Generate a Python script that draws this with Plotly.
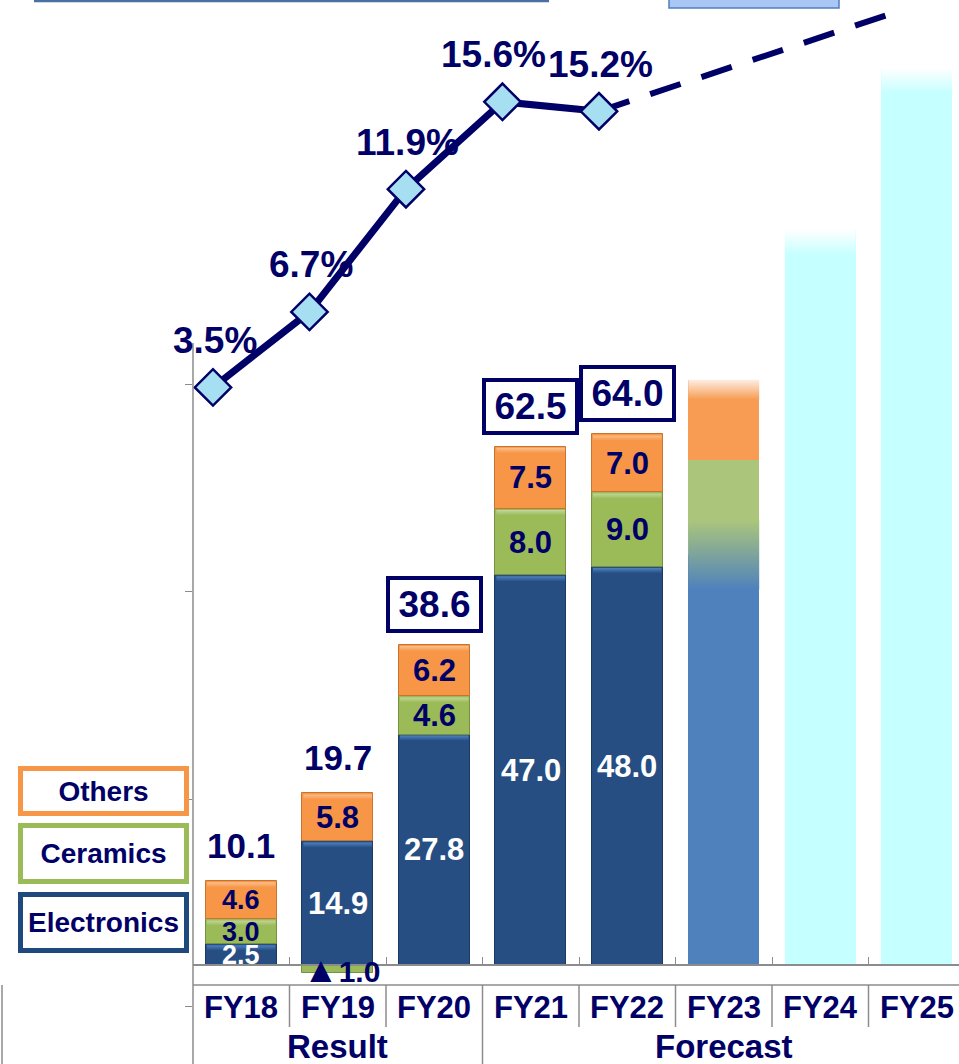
import plotly.graph_objects as go

# ---- data -------------------------------------------------------------
years = ["FY18", "FY19", "FY20", "FY21", "FY22", "FY23", "FY24", "FY25"]
result_years = years[:5]

electronics = [2.5, 14.9, 27.8, 47.0, 48.0]
ceramics = [3.0, -1.0, 4.6, 8.0, 9.0]
others = [4.6, 5.8, 6.2, 7.5, 7.0]
totals = [10.1, 19.7, 38.6, 62.5, 64.0]

margin_pct = [3.5, 6.7, 11.9, 15.6, 15.2]
margin_outlook_fy25 = 19.3

fy23_plan = {"Electronics": 49.5, "Ceramics": 11.4, "Others": 9.7}
outlook_years = ["FY24", "FY25"]
outlook_values = [88.7, 108.2]

period_groups = [("Result", years[:3]), ("Forecast", years[3:])]

# ---- styling ----------------------------------------------------------
FONT = "Liberation Sans, Arial, sans-serif"
NAVY = "#000066"
GRID = "#8c8c8c"
C_ELEC, C_CER, C_OTH = "#264e83", "#9bbb59", "#f79646"
HI_ELEC, HI_CER, HI_OTH = "#4f81bd", "#c3d69b", "#fbbf8c"
C_ELEC_F, C_CER_F, C_OTH_F = "#4f81bd", "#abc67b", "#f79c52"
C_OUTLOOK = "#c6ffff"

W, H = 959, 1064
L = 193                      # left edge of plot area (px)
CAT_PX = 96.5                # px per category
BASE_PX = 965                # pixel row of zero
K = 8.29                     # px per bar unit
LINE_ZERO_PX, LINE_K = 470, 23.6
BAR_W = 0.735
BEVEL = 0.75                 # height of the lit top edge, bar units

x_hi = -0.5 + (W - L) / CAT_PX
line_shift = 0.207
pos = {y: i for i, y in enumerate(years)}


def px_x(p):
    return (p - L) / (W - L)


def px_y(p):
    return 1 - p / H


fig = go.Figure()

# ---- stacked result bars ---------------------------------------------
xr = [pos[y] for y in result_years]
series = [("Electronics", electronics, C_ELEC, HI_ELEC, "#1b3a63"),
          ("Ceramics", ceramics, C_CER, HI_CER, "#76913f"),
          ("Others", others, C_OTH, HI_OTH, "#c8732e")]
for name, vals, col, _, edge in series:
    fig.add_bar(x=xr, y=vals, name=name, width=BAR_W,
                marker=dict(color=col, line=dict(color=edge, width=1)))

# ---- FY23 plan bar ----------------------------------------------------
for (name, v), col in zip(fy23_plan.items(), [C_ELEC_F, C_CER_F, C_OTH_F]):
    fig.add_bar(x=[pos["FY23"]], y=[v], width=BAR_W,
                marker=dict(color=col, line=dict(width=0)))

# ---- outlook bars -----------------------------------------------------
fig.add_bar(x=[pos[y] for y in outlook_years], y=outlook_values, width=BAR_W,
            marker=dict(color=C_OUTLOOK, line=dict(width=0)))


def gradient_block(xc, y_lo, y_hi, c_lo, c_hi, inset=0.0):
    x0, x1 = xc - BAR_W / 2 + inset, xc + BAR_W / 2 - inset
    fig.add_scatter(x=[x0, x1, x1, x0, x0], y=[y_lo, y_lo, y_hi, y_hi, y_lo],
                    mode="lines", line=dict(width=0), fill="toself",
                    fillgradient=dict(type="vertical", start=y_lo, stop=y_hi,
                                      colorscale=[[0, c_lo], [1, c_hi]]),
                    hoverinfo="skip")


# lit top edge on each positive result segment
for i in range(len(result_years)):
    base = 0.0
    for _, vals, col, hi, _ in series:
        v = vals[i]
        if v > 0:
            base += v
            gradient_block(i, base - BEVEL, base - 0.12, col, hi, inset=0.012)

# soft transitions on the plan / outlook bars
e23 = fy23_plan["Electronics"]
top23 = sum(fy23_plan.values())
gradient_block(pos["FY23"], e23 - 4.2, e23 + 4.2, C_ELEC_F, C_CER_F)
gradient_block(pos["FY23"], top23 - 2.4, top23, C_OTH_F, "#fdeee4")
for y, v in zip(outlook_years, outlook_values):
    gradient_block(pos[y], v - 3.0, v, C_OUTLOOK, "#ffffff")

# ---- operating margin line -------------------------------------------
fig.add_scatter(x=[pos["FY22"], pos["FY25"]], y=[margin_pct[-1], margin_outlook_fy25],
                xaxis="x2", yaxis="y2", mode="lines",
                line=dict(color=NAVY, width=6, dash="32px,22px"), hoverinfo="skip")
fig.add_scatter(x=xr, y=margin_pct, xaxis="x2", yaxis="y2", mode="lines+markers",
                line=dict(color=NAVY, width=7),
                marker=dict(symbol="diamond", size=28, color="#a6def2",
                            line=dict(color=NAVY, width=2.5)))

ann = []


def label(**kw):
    kw.setdefault("showarrow", False)
    kw.setdefault("xanchor", "center")
    kw.setdefault("yanchor", "middle")
    ann.append(kw)


# segment value labels
for i in range(len(result_years)):
    fs = 27 if totals[i] < 15 else 31
    e, c, o = electronics[i], ceramics[i], others[i]
    c_mid = e + c / 2 if c > 0 else c / 2
    o_mid = e + max(c, 0) + o / 2
    for val, mid, col in [(e, e / 2, "white"), (c, c_mid, NAVY), (o, o_mid, NAVY)]:
        if val >= 0:
            txt = f"<b>{val:.1f}</b>"
        else:
            txt = f"<span style='font-size:36px'>▲</span><b>{abs(val):.1f}</b>"
        label(x=i, y=mid, text=txt,
              font=dict(family=FONT, size=fs if val >= 0 else 30, color=col),
              xshift=0 if val >= 0 else 4)

# totals
for i, t in enumerate(totals):
    top = electronics[i] + max(ceramics[i], 0) + others[i]
    if t > 30:
        label(x=i, y=top, yanchor="bottom", text=f"<b>{t:.1f}</b>", yshift=12,
              font=dict(family=FONT, size=37, color=NAVY),
              bordercolor=NAVY, borderwidth=4, borderpad=1, bgcolor="white",
              width=87, height=47)
    else:
        label(x=i, y=top, yanchor="bottom", text=f"<b>{t:.1f}</b>", yshift=14,
              font=dict(family=FONT, size=35, color=NAVY))

# margin labels
for i, p in enumerate(margin_pct):
    label(x=i, y=p, xref="x2", yref="y2", text=f"<b>{p:.1f}%</b>",
          yshift=47, xshift=-9 if i == 3 else 2,
          font=dict(family=FONT, size=37, color=NAVY))

# category table labels
for y in years:
    label(x=pos[y], y=px_y(1007), yref="paper", text=f"<b>{y}</b>",
          font=dict(family=FONT, size=31, color=NAVY))
for name, grp in period_groups:
    xc = (pos[grp[0]] + pos[grp[-1]]) / 2
    label(x=xc, y=px_y(1046), yref="paper", text=f"<b>{name}</b>",
          font=dict(family=FONT, size=33, color=NAVY))

# legend boxes
for name, col, y0, y1 in [("Others", C_OTH, 766, 816),
                          ("Ceramics", C_CER, 823, 884),
                          ("Electronics", "#1f497d", 892, 953)]:
    label(x=px_x(103.5), y=px_y((y0 + y1) / 2), xref="paper", yref="paper",
          text=f"<b>{name}</b>", bgcolor="white",
          bordercolor=col, borderwidth=5, borderpad=0,
          width=161, height=(y1 - y0) - 10,
          font=dict(family=FONT, size=28, color=NAVY))

shapes = []
# left axis line
shapes.append(dict(type="line", xref="paper", yref="paper", x0=0, x1=0,
                   y0=px_y(343), y1=0, line=dict(color=GRID, width=1.5)))
# category table rules
shapes.append(dict(type="line", xref="paper", yref="paper", x0=0, x1=1,
                   y0=px_y(985), y1=px_y(985), line=dict(color=GRID, width=1.5)))
for j in range(len(years) - 1):
    b = j + 0.5
    full = b == pos["FY21"] - 0.5
    shapes.append(dict(type="line", xref="x", yref="paper", x0=b, x1=b,
                       y0=px_y(985), y1=0 if full else px_y(1027),
                       line=dict(color=GRID, width=1.5)))
shapes.append(dict(type="line", xref="paper", yref="paper", x0=px_x(2), x1=px_x(2),
                   y0=px_y(985), y1=0, line=dict(color=GRID, width=1.5)))
# header elements at the very top
shapes.append(dict(type="line", xref="paper", yref="paper", x0=px_x(34), x1=px_x(549),
                   y0=px_y(1), y1=px_y(1), line=dict(color="#4a6fa5", width=2.5)))
shapes.append(dict(type="rect", xref="paper", yref="paper", x0=px_x(669), x1=px_x(839),
                   y0=px_y(8), y1=px_y(-10), fillcolor="#a9c7f5",
                   line=dict(color="#4f7fbf", width=1.5)))

fig.update_layout(
    width=W, height=H, margin=dict(l=L, r=0, t=0, b=0),
    plot_bgcolor="white", paper_bgcolor="white",
    barmode="relative", bargap=0, showlegend=False,
    annotations=ann, shapes=shapes,
    xaxis=dict(range=[-0.5, x_hi], showgrid=False, zeroline=False,
               showticklabels=False, anchor="free",
               position=(H - BASE_PX) / H, showline=True, linecolor=GRID,
               linewidth=1.5, ticks="inside", ticklen=7, tickcolor=GRID,
               tickvals=[j + 0.5 for j in range(len(years) - 1)]),
    yaxis=dict(range=[-(H - BASE_PX) / K, BASE_PX / K], showgrid=False,
               zeroline=False, showticklabels=False, showline=False,
               ticks="outside", ticklen=7, tickcolor=GRID,
               tickvals=[-5, 20, 45, 70]),
    xaxis2=dict(overlaying="x", range=[-line_shift, x_hi + 0.5 - line_shift],
                visible=False),
    yaxis2=dict(overlaying="y", range=[-(H - LINE_ZERO_PX) / LINE_K, LINE_ZERO_PX / LINE_K],
                visible=False),
)

fig.write_html("out.html")
